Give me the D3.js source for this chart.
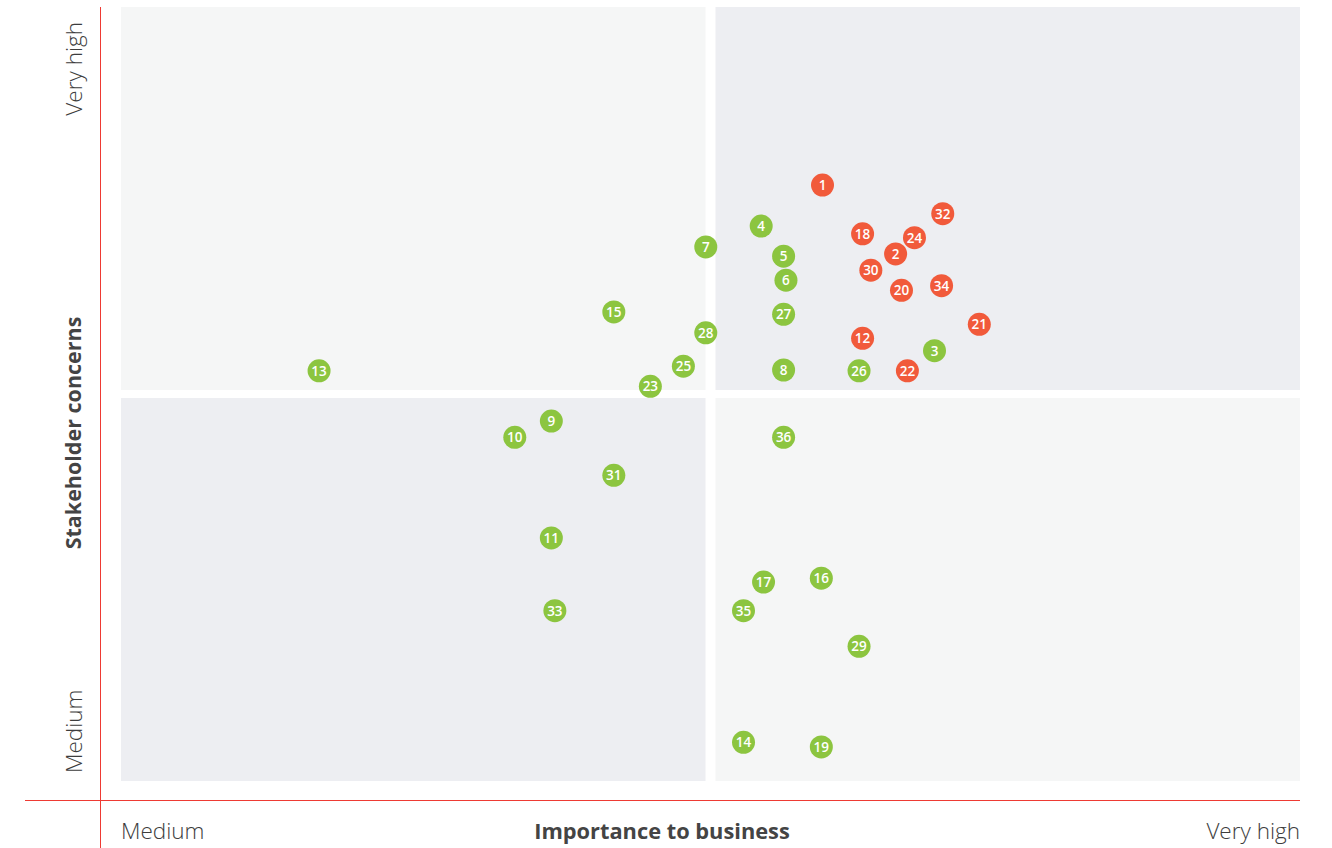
<!DOCTYPE html>
<html>
<head>
<meta charset="utf-8">
<script src="https://cdn.jsdelivr.net/npm/d3@7/dist/d3.min.js"></script>
<style>
  html, body { margin: 0; padding: 0; background: #ffffff; }
  svg { display: block; }
  text { font-family: "Open Sans", "Noto Sans", sans-serif; }
</style>
</head>
<body>
<svg id="chart" width="1332" height="848"></svg>
<script>
// ---- Data ----
const ids    = [1, 32, 4, 18, 24, 7, 2, 5, 30, 6, 20, 34, 15, 27, 21, 28, 12, 3, 25, 13, 8, 26, 22, 23, 9, 10, 36, 31, 11, 16, 17, 33, 35, 29, 14, 19];
const xVals  = [5.95, 6.97, 5.43, 6.29, 6.73, 4.96, 6.57, 5.62, 6.36, 5.64, 6.62, 6.96, 4.18, 5.62, 7.28, 4.96, 6.29, 6.90, 4.77, 1.68, 5.62, 6.26, 6.67, 4.49, 3.65, 3.34, 5.62, 4.18, 3.65, 5.94, 5.45, 3.68, 5.28, 6.26, 5.28, 5.94];
const yVals  = [7.70, 7.33, 7.17, 7.07, 7.02, 6.90, 6.81, 6.78, 6.60, 6.47, 6.34, 6.40, 6.06, 6.03, 5.90, 5.79, 5.72, 5.56, 5.36, 5.30, 5.31, 5.30, 5.30, 5.10, 4.65, 4.44, 4.44, 3.95, 3.14, 2.62, 2.57, 2.20, 2.20, 1.74, 0.50, 0.44];
const groups = ["material", "material", "other", "material", "material", "other", "material", "other", "material", "other", "material", "material", "other", "other", "material", "other", "material", "other", "other", "other", "other", "other", "material", "other", "other", "other", "other", "other", "other", "other", "other", "other", "other", "other", "other", "other"];
const xTickLabels = ["Medium", "Very high"];
const yTickLabels = ["Medium", "Very high"];
const xTitle = "Importance to business";
const yTitle = "Stakeholder concerns";

const points = ids.map((id, i) => ({ id, x: xVals[i], y: yVals[i], g: groups[i] }));

// ---- Layout ----
const svg = d3.select("#chart");
const plot = { left: 121, right: 1300, top: 7, bottom: 781 };
const xs = d3.scaleLinear().domain([0, 10]).range([plot.left, plot.right]);
const ys = d3.scaleLinear().domain([0, 10]).range([plot.bottom, plot.top]);
const colors = { material: "#f15a3b", other: "#8cc540" };
const quadLight = "#f5f6f6", quadDark = "#edeef2";

const xm = xs(5), ym = ys(5), gx = 5, gy = 4;
const quads = [
  { x0: plot.left, x1: xm - gx, y0: plot.top, y1: ym - gy, c: quadLight },
  { x0: xm + gx, x1: plot.right, y0: plot.top, y1: ym - gy, c: quadDark },
  { x0: plot.left, x1: xm - gx, y0: ym + gy, y1: plot.bottom, c: quadDark },
  { x0: xm + gx, x1: plot.right, y0: ym + gy, y1: plot.bottom, c: quadLight }
];
svg.append("g").selectAll("rect").data(quads).join("rect")
  .attr("x", d => d.x0).attr("y", d => d.y0)
  .attr("width", d => d.x1 - d.x0).attr("height", d => d.y1 - d.y0)
  .attr("fill", d => d.c);

// axis lines
const axisColor = "#ee3a33";
svg.append("line").attr("x1", 100.5).attr("x2", 100.5).attr("y1", 7).attr("y2", 848)
  .attr("stroke", axisColor).attr("stroke-width", 1);
svg.append("line").attr("x1", 25).attr("x2", 1300).attr("y1", 800.5).attr("y2", 800.5)
  .attr("stroke", axisColor).attr("stroke-width", 1);

const textColor = "#3d3d3d";
const fs = 22.5;
// x labels
svg.append("text").attr("x", xs(0)).attr("y", 839).attr("font-size", fs)
  .attr("fill", textColor).attr("font-weight", 300).text(xTickLabels[0]);
svg.append("text").attr("x", xs(10)).attr("y", 839).attr("font-size", fs)
  .attr("text-anchor", "end").attr("fill", textColor).attr("font-weight", 300).text(xTickLabels[1]);
svg.append("text").attr("x", 662).attr("y", 839).attr("font-size", 21.8)
  .attr("text-anchor", "middle").attr("fill", "#444").attr("font-weight", 700).text(xTitle);

// y labels (rotated)
function vtext(cx, cy, t, weight, anchor, size) {
  svg.append("text").attr("transform", `translate(${cx},${cy}) rotate(-90)`)
    .attr("font-size", size).attr("text-anchor", anchor).attr("fill", weight === 700 ? "#444" : textColor)
    .attr("font-weight", weight).text(t);
}
vtext(82, 773, yTickLabels[0], 300, "start", fs);
vtext(82, 22, yTickLabels[1], 300, "end", fs);
vtext(81, 433, yTitle, 700, "middle", 21.5);

// points
const pg = svg.append("g").selectAll("g").data(points).join("g")
  .attr("transform", d => `translate(${xs(d.x)},${ys(d.y)})`);
pg.append("circle").attr("r", 11.5).attr("fill", d => colors[d.g]);
pg.append("text").attr("text-anchor", "middle").attr("dy", "0.36em")
  .attr("font-size", 13.5).attr("font-weight", 600).attr("fill", "#ffffff")
  .text(d => d.id);
</script>
</body>
</html>
